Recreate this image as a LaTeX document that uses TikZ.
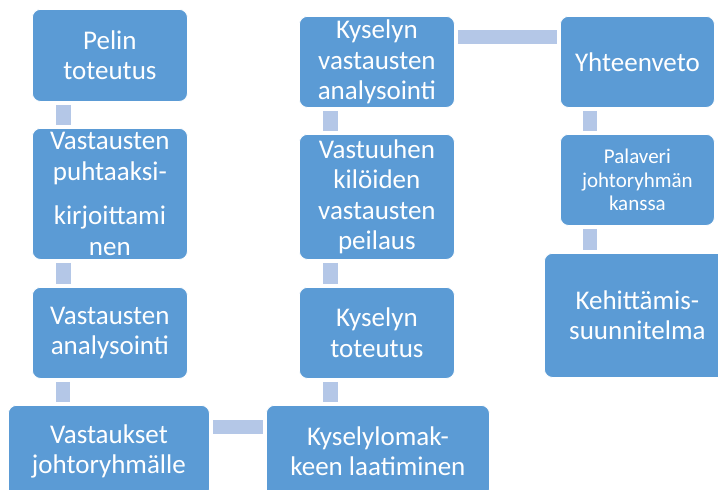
\documentclass[tikz,border=0pt]{standalone}
\usepackage{fontspec}
\setmainfont{Carlito}
\usetikzlibrary{calc}
\definecolor{bc}{RGB}{91,155,213}
\definecolor{cc}{RGB}{180,199,231}
\tikzset{b/.style={draw=white,line width=.8pt,fill=bc,rounded corners=8pt,text=white,align=center,
  inner sep=0pt,anchor=north west,font=\fontsize{27}{30.5}\selectfont},
 sb/.style={b,font=\fontsize{21}{23.5}\selectfont},
 conn/.style={draw=cc,line width=14.5pt,shorten <=3pt,shorten >=3pt}}
\begin{document}
\begin{tikzpicture}[x=1pt,y=-1pt]
\useasboundingbox (0,0) rectangle (718,490);
\node[b,minimum width=155pt,minimum height=92pt] (pel) at (32,9) {Pelin\\toteutus};
\node[b,minimum width=155pt,minimum height=131pt] (puh) at (32,128) {Vastausten\\puhtaaksi-\\[14pt]kirjoittami\\nen};
\node[b,minimum width=155pt,minimum height=91pt] (van) at (32,287) {Vastausten\\analysointi};
\node[b,minimum width=201pt,minimum height=92pt] (vjo) at (8,405) {Vastaukset\\johtoryhmälle};
\node[b,minimum width=223pt,minimum height=92pt] (kla) at (266,405) {Kyselylomak-\\keen laatiminen};
\node[b,minimum width=155pt,minimum height=91pt] (kto) at (299,287) {Kyselyn\\toteutus};
\node[b,minimum width=155pt,minimum height=125pt] (vpe) at (299,134) {Vastuuhen\\kilöiden\\vastausten\\peilaus};
\node[b,minimum width=155pt,minimum height=91pt] (kva) at (299,16) {Kyselyn\\vastausten\\analysointi};
\node[b,minimum width=154pt,minimum height=91pt] (yht) at (560,16) {Yhteenveto};
\node[sb,minimum width=154pt,minimum height=91pt] (pal) at (560,134) {Palaveri\\johtoryhmän\\kanssa};
\node[b,minimum width=186pt,minimum height=124pt] (keh) at (544,253) {Kehittämis-\\suunnitelma};
% connectors
\draw[conn] ([xshift=31.5pt]pel.south west) -- ([xshift=31.5pt]puh.north west);
\draw[conn] ([xshift=31.5pt]puh.south west) -- ([xshift=31.5pt]van.north west);
\draw[conn] ([xshift=31pt]van.south west) -- ([xshift=31pt]van.south west |- vjo.north);
\draw[conn] ([yshift=-22pt]vjo.north east) -- ([yshift=-22pt]kla.north west);
\draw[conn] ([xshift=31.5pt]kto.south west) -- ([xshift=31.5pt]kto.south west |- kla.north);
\draw[conn] ([xshift=31.5pt]vpe.south west) -- ([xshift=31.5pt]kto.north west);
\draw[conn] ([xshift=31.5pt]kva.south west) -- ([xshift=31.5pt]vpe.north west);
\draw[conn] ([yshift=-21pt]kva.north east) -- ([yshift=-21pt]yht.north west);
\draw[conn] ([xshift=30pt]yht.south west) -- ([xshift=30pt]pal.north west);
\draw[conn] ([xshift=30pt]pal.south west) -- ([xshift=30pt]pal.south west |- keh.north);
\end{tikzpicture}
\end{document}
